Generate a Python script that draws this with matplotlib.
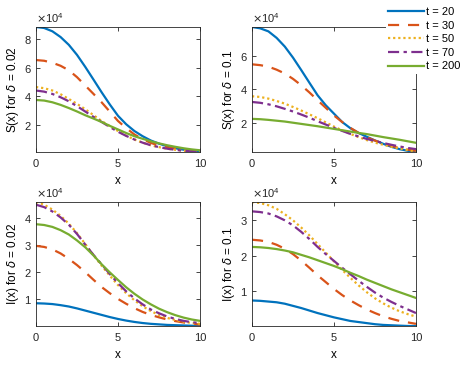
import matplotlib.pyplot as plt
import numpy as np

plt.rcParams['font.family'] = ['Liberation Sans', 'DejaVu Sans']

# x grid and curve values (in units of 1e4)
x = np.arange(0, 10.01, 0.5)
labels = ['t = 20', 't = 30', 't = 50', 't = 70', 't = 200']

S_002 = [
    [8.82, 8.75, 8.52, 8.12, 7.58, 6.88, 6.05, 5.17, 4.28, 3.43, 2.64, 2.05, 1.58, 1.22, 0.92, 0.70, 0.52, 0.38, 0.28, 0.21, 0.16],
    [6.52, 6.47, 6.33, 6.12, 5.81, 5.33, 4.75, 4.17, 3.58, 2.93, 2.28, 1.78, 1.34, 1.02, 0.75, 0.58, 0.45, 0.35, 0.26, 0.18, 0.12],
    [4.64, 4.56, 4.40, 4.14, 3.81, 3.47, 3.10, 2.69, 2.28, 1.92, 1.58, 1.26, 0.99, 0.77, 0.59, 0.46, 0.35, 0.27, 0.21, 0.16, 0.12],
    [4.40, 4.32, 4.16, 3.93, 3.65, 3.31, 2.94, 2.57, 2.21, 1.86, 1.53, 1.24, 0.99, 0.77, 0.59, 0.46, 0.35, 0.27, 0.21, 0.16, 0.12],
    [3.74, 3.70, 3.58, 3.40, 3.18, 2.94, 2.68, 2.45, 2.21, 1.94, 1.69, 1.44, 1.22, 1.04, 0.87, 0.72, 0.59, 0.48, 0.38, 0.30, 0.24],
]
S_01 = [
    [7.73, 7.65, 7.47, 7.08, 6.56, 5.90, 5.16, 4.40, 3.65, 3.05, 2.55, 2.05, 1.68, 1.40, 1.17, 0.95, 0.75, 0.57, 0.43, 0.33, 0.26],
    [5.50, 5.45, 5.36, 5.18, 4.95, 4.63, 4.25, 3.82, 3.35, 2.90, 2.44, 2.05, 1.70, 1.40, 1.14, 0.94, 0.77, 0.62, 0.49, 0.40, 0.33],
    [3.59, 3.55, 3.45, 3.31, 3.15, 2.95, 2.74, 2.51, 2.28, 2.03, 1.78, 1.55, 1.34, 1.15, 0.97, 0.82, 0.69, 0.57, 0.47, 0.37, 0.29],
    [3.25, 3.20, 3.11, 2.99, 2.84, 2.68, 2.50, 2.31, 2.10, 1.90, 1.70, 1.52, 1.34, 1.19, 1.04, 0.92, 0.80, 0.69, 0.59, 0.50, 0.43],
    [2.24, 2.22, 2.18, 2.13, 2.08, 2.01, 1.94, 1.87, 1.80, 1.72, 1.64, 1.56, 1.48, 1.40, 1.33, 1.24, 1.15, 1.07, 0.99, 0.90, 0.81],
]
I_002 = [
    [0.86, 0.85, 0.83, 0.79, 0.74, 0.67, 0.59, 0.51, 0.43, 0.35, 0.28, 0.22, 0.17, 0.13, 0.10, 0.08, 0.06, 0.05, 0.04, 0.03, 0.02],
    [2.98, 2.94, 2.85, 2.70, 2.50, 2.27, 2.01, 1.73, 1.46, 1.23, 1.02, 0.84, 0.68, 0.54, 0.43, 0.34, 0.26, 0.20, 0.15, 0.11, 0.07],
    [4.60, 4.50, 4.32, 4.09, 3.80, 3.45, 3.05, 2.64, 2.25, 1.88, 1.53, 1.23, 0.97, 0.75, 0.57, 0.43, 0.32, 0.24, 0.18, 0.13, 0.10],
    [4.50, 4.41, 4.25, 4.03, 3.76, 3.42, 3.03, 2.65, 2.30, 1.94, 1.60, 1.30, 1.04, 0.82, 0.63, 0.49, 0.37, 0.28, 0.21, 0.16, 0.13],
    [3.78, 3.75, 3.68, 3.56, 3.40, 3.18, 2.93, 2.63, 2.30, 2.00, 1.72, 1.45, 1.21, 1.00, 0.82, 0.66, 0.53, 0.42, 0.33, 0.26, 0.21],
]
I_01 = [
    [0.75, 0.74, 0.72, 0.70, 0.66, 0.60, 0.54, 0.47, 0.40, 0.34, 0.28, 0.23, 0.18, 0.15, 0.12, 0.09, 0.07, 0.06, 0.05, 0.04, 0.04],
    [2.44, 2.42, 2.38, 2.30, 2.19, 2.04, 1.86, 1.66, 1.45, 1.26, 1.07, 0.90, 0.75, 0.62, 0.50, 0.40, 0.31, 0.24, 0.18, 0.14, 0.10],
    [3.49, 3.46, 3.40, 3.30, 3.15, 2.98, 2.78, 2.56, 2.32, 2.08, 1.84, 1.60, 1.38, 1.17, 0.98, 0.81, 0.67, 0.55, 0.45, 0.37, 0.30],
    [3.23, 3.21, 3.17, 3.09, 2.98, 2.84, 2.66, 2.46, 2.24, 2.04, 1.85, 1.66, 1.48, 1.30, 1.13, 0.97, 0.83, 0.71, 0.60, 0.50, 0.40],
    [2.24, 2.23, 2.21, 2.18, 2.14, 2.09, 2.02, 1.95, 1.87, 1.79, 1.71, 1.62, 1.52, 1.43, 1.33, 1.24, 1.15, 1.06, 0.98, 0.90, 0.82],
]

colors = ['#0072BD', '#D95319', '#EDB120', '#7E2F8E', '#77AC30']
styles = ['-', (0, (5, 4)), (0, (1, 1.3)), (0, (5, 2, 1.5, 2)), '-']

panels = [
    (S_002, 'S(x) for $\\delta$ = 0.02', [2, 4, 6, 8], [36, 27, 200, 152]),
    (S_01, 'S(x) for $\\delta$ = 0.1', [2, 4, 6], [252, 27, 416, 152]),
    (I_002, 'I(x) for $\\delta$ = 0.02', [1, 2, 3, 4], [36, 202, 200, 326]),
    (I_01, 'I(x) for $\\delta$ = 0.1', [1, 2, 3], [252, 202, 416, 326]),
]

W, H = 473, 366
fig = plt.figure(figsize=(W / 100, H / 100), dpi=100)

handles = None
for data, ylab, yt, (l, t, r, b) in panels:
    ax = fig.add_axes([l / W, 1 - b / H, (r - l) / W, (b - t) / H])
    vals = np.array(data) * 1e4
    lines = []
    for k in range(5):
        ln, = ax.plot(x, vals[k], color=colors[k], linestyle=styles[k], lw=1.6, label=labels[k])
        lines.append(ln)
    handles = lines
    ax.set_xlim(0, 10)
    ax.set_ylim(vals.min(), vals.max())
    ax.set_xticks([0, 5, 10])
    ax.set_yticks(np.array(yt) * 1e4)
    ax.ticklabel_format(axis='y', style='sci', scilimits=(4, 4), useMathText=True)
    ax.yaxis.get_offset_text().set_fontsize(8)
    ax.yaxis.get_offset_text().set_color('#333333')
    ax.tick_params(direction='in', top=True, right=True, labelsize=8, length=3,
                   width=0.6, colors='#262626')
    ax.tick_params(axis='x', pad=5)
    ax.tick_params(axis='y', pad=3)
    for sp in ax.spines.values():
        sp.set_linewidth(0.6)
        sp.set_color('#262626')
    ax.set_xlabel('x', fontsize=8.5, labelpad=4)
    ax.set_ylabel(ylab, fontsize=8.5, labelpad=2)

fig.legend(handles=handles, labels=labels, loc='upper left',
           bbox_to_anchor=(386 / W, 1 - 5 / H), fontsize=8, frameon=True,
           edgecolor='none', facecolor='white', framealpha=1,
           handlelength=3.2, handletextpad=0.2, labelspacing=0.32,
           borderpad=0.2, borderaxespad=0)

fig.savefig('out.png', dpi=100)
